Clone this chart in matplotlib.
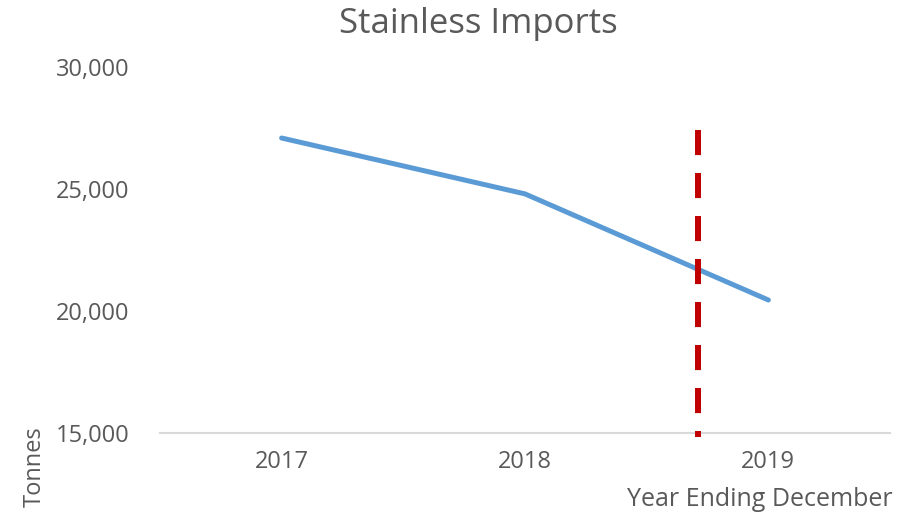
import matplotlib
matplotlib.use('Agg')
import matplotlib.pyplot as plt
from matplotlib.ticker import FuncFormatter

years = ['2017', '2018', '2019']
tonnes = [27090, 24800, 20450]
marker_pos = 1.71  # dashed line position between 2018 and 2019
marker_top = 27400
y_ticks = [15000, 20000, 25000, 30000]

plt.rcParams['font.family'] = ['Open Sans', 'DejaVu Sans']
grey = '#595959'

fig = plt.figure(figsize=(9.23, 5.12), dpi=100)
ax = fig.add_axes([0.1733, 0.1543, 0.791, 0.7148])

x = list(range(len(years)))
ax.plot(x, tonnes, color='#5B9BD5', linewidth=3.6, solid_capstyle='round', zorder=3)
# drawn top to bottom so the dash pattern starts at the top
ax.plot([marker_pos, marker_pos], [marker_top, 14850], color='#C00000',
        linewidth=4.3, dashes=(4.2, 3.0), zorder=4, clip_on=False)

ax.set_xlim(-0.5, 2.5)
ax.set_ylim(15000, 30000)
ax.set_xticks(x)
ax.set_xticklabels(years)
ax.set_yticks(y_ticks)
ax.yaxis.set_major_formatter(FuncFormatter(lambda v, p: f'{int(v):,}'))

for s in ['top', 'right', 'left']:
    ax.spines[s].set_visible(False)
ax.spines['bottom'].set_color('#D9D9D9')
ax.spines['bottom'].set_linewidth(1.5)
ax.tick_params(axis='both', length=0, labelsize=17, colors=grey)
ax.tick_params(axis='x', pad=12)
ax.tick_params(axis='y', pad=22)

fig.text(0.518, 0.953, 'Stainless Imports', ha='center', va='center', fontsize=25, color=grey)
fig.text(0.038, 0.01, 'Tonnes', rotation=90, ha='center', va='bottom', fontsize=17, color=grey)
fig.text(0.967, 0.024, 'Year Ending December', ha='right', va='center', fontsize=18, color=grey)

fig.savefig('out.png', dpi=100)
